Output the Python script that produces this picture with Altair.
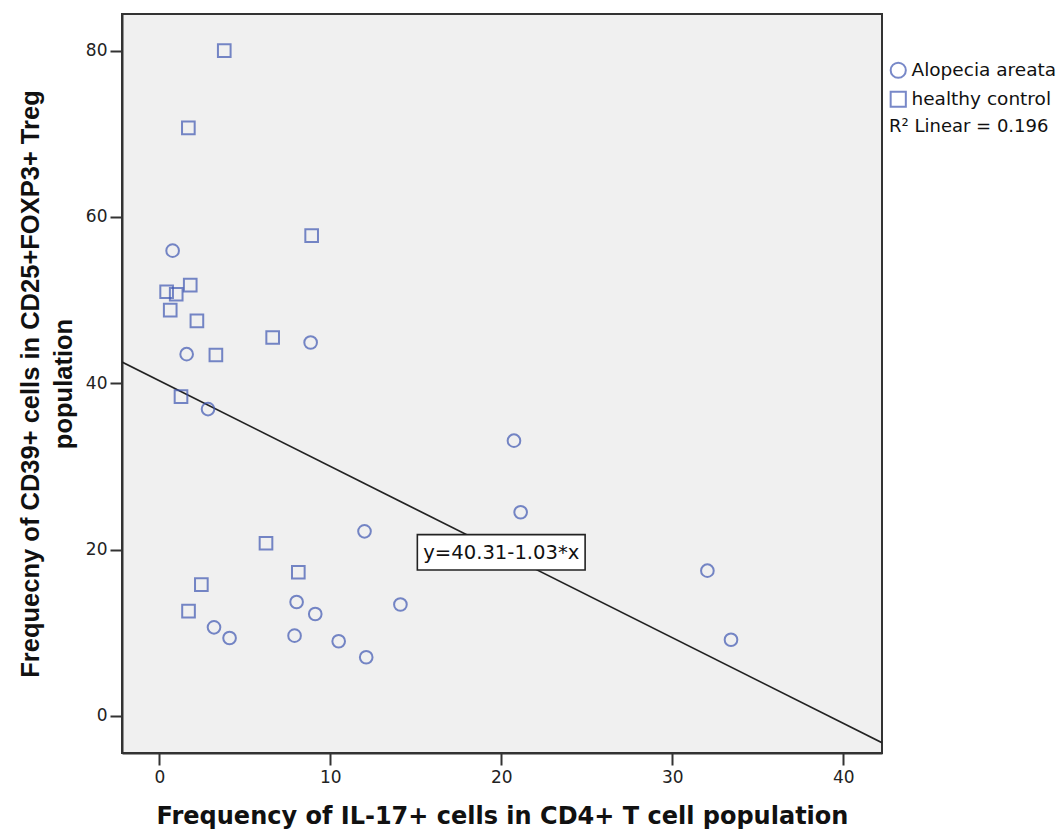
import altair as alt
import pandas as pd

# ---- data ----
aa_x = [0.78, 1.6, 8.85, 2.85, 12.0, 8.03, 9.12, 14.1, 3.2, 4.11, 7.91, 10.49, 12.1, 20.74, 21.13, 32.05, 33.43]
aa_y = [55.95, 43.5, 44.9, 36.9, 22.2, 13.7, 12.26, 13.4, 10.66, 9.38, 9.66, 8.98, 7.06, 33.1, 24.5, 17.47, 9.17]
hc_x = [3.8, 1.7, 8.91, 0.43, 1.81, 0.99, 0.64, 2.2, 6.63, 3.31, 1.27, 6.24, 8.13, 2.46, 1.71]
hc_y = [80.0, 70.7, 57.75, 51.0, 51.8, 50.7, 48.8, 47.5, 45.5, 43.4, 38.4, 20.77, 17.28, 15.8, 12.6]
groups = ["Alopecia areata", "healthy control"]
shapes = ["circle", "square"]

fit_intercept = 40.31
fit_slope = -1.03
x_domain = [-2.18, 42.26]
y_domain = [-4.45, 84.4]
x_ticks = [0, 10, 20, 30, 40]
y_ticks = [0, 20, 40, 60, 80]
eq_label = "y=40.31-1.03*x"
eq_pos = [20.0, 19.6]
eq_box = [15.09, 24.9, 17.55, 21.8]
r2_text = "R\u00b2 Linear = 0.196"

x_title = "Frequency of IL-17+ cells in CD4+ T cell population"
y_title = ["Frequecny of CD39+ cells in  CD25+FOXP3+ Treg", "population"]

BLUE = "#3F57B2"

pts = pd.DataFrame({
    "x": aa_x + hc_x,
    "y": aa_y + hc_y,
    "group": [groups[0]] * len(aa_x) + [groups[1]] * len(hc_x),
})
line_df = pd.DataFrame({"x": x_domain})
label_df = pd.DataFrame({"x": [eq_pos[0]], "y": [eq_pos[1]], "t": [eq_label]})
box_df = pd.DataFrame({"x": [eq_box[0]], "x2": [eq_box[1]], "y": [eq_box[2]], "y2": [eq_box[3]]})

xs = alt.Scale(domain=x_domain, nice=False, zero=False)
ys = alt.Scale(domain=y_domain, nice=False, zero=False)

xax = alt.Axis(values=x_ticks, grid=False, title=x_title, titleFont="DejaVu Sans",
               titleFontSize=24, titleFontWeight="bold", titleColor="#111",
               titlePadding=19, labelFont="DejaVu Sans", labelFontSize=17,
               labelColor="#222", labelPadding=4, tickSize=12, tickWidth=2,
               tickColor="#333", domainColor="#333", domainWidth=2)
yax = alt.Axis(values=y_ticks, grid=False, title=y_title, titleFont="Liberation Sans",
               titleFontSize=25.5, titleFontWeight="bold", titleColor="#111",
               titleLineHeight=33, titlePadding=9, labelFont="DejaVu Sans",
               labelFontSize=17, labelColor="#222", labelPadding=3, tickSize=12,
               tickWidth=2, tickColor="#333", domainColor="#333", domainWidth=2)

points = alt.Chart(pts).mark_point(filled=False, size=160, strokeWidth=2, color=BLUE).encode(
    x=alt.X("x:Q", scale=xs, axis=xax),
    y=alt.Y("y:Q", scale=ys, axis=yax),
    shape=alt.Shape("group:N", scale=alt.Scale(domain=groups, range=shapes),
                    legend=alt.Legend(
                        title=r2_text, orient="none", legendX=767, legendY=47,
                        titleOrient="bottom", titleFont="DejaVu Sans", titleFontSize=18,
                        titleFontWeight="normal", titleColor="#111", titlePadding=7,
                        titleAnchor="start",
                        labelFont="DejaVu Sans", labelFontSize=18.5, labelColor="#111",
                        symbolSize=230, symbolStrokeWidth=2, symbolStrokeColor=BLUE,
                        symbolFillColor="transparent", symbolType="circle",
                        rowPadding=5, labelOffset=4, padding=0, symbolOffset=0)),
)

reg = alt.Chart(line_df).transform_calculate(
    y=f"{fit_intercept} + ({fit_slope}) * datum.x"
).mark_line(color="#222", strokeWidth=1.7, clip=True).encode(
    x=alt.X("x:Q", scale=xs), y=alt.Y("y:Q", scale=ys)
)

box = alt.Chart(box_df).mark_rect(fill="white", stroke="#222", strokeWidth=1.6).encode(
    x=alt.X("x:Q", scale=xs), x2="x2:Q", y=alt.Y("y:Q", scale=ys), y2="y2:Q"
)
label = alt.Chart(label_df).mark_text(font="DejaVu Sans", fontSize=19.6, color="#111",
                                      align="center", baseline="middle").encode(
    x=alt.X("x:Q", scale=xs), y=alt.Y("y:Q", scale=ys), text="t:N"
)

chart = alt.layer(reg, box, label, points).properties(
    width=760, height=739,
    autosize=alt.AutoSizeParams(type="none"),
    padding={"left": 122, "top": 14, "right": 180, "bottom": 79},
    background="white",
).configure_view(fill="#F0F0F0", stroke="#333", strokeWidth=2)

chart.save("out.html", embed_options={"renderer": "svg", "actions": False})
